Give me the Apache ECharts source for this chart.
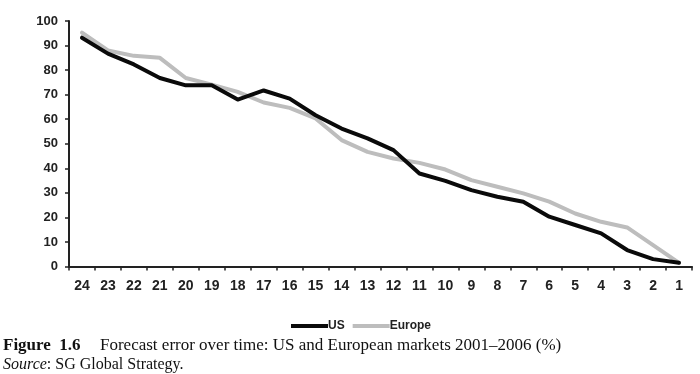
<!DOCTYPE html>
<html><head><meta charset="utf-8">
<script src="https://cdn.jsdelivr.net/npm/echarts@6/dist/echarts.min.js"></script>
<style>html,body{margin:0;padding:0;background:#fff}#c{width:700px;height:374px}</style>
</head><body><div id="c"></div>
<script>
var categories = ['24','23','22','21','20','19','18','17','16','15','14','13','12','11','10','9','8','7','6','5','4','3','2','1'];
var usValues = [93.2,86.7,82.3,76.8,73.8,73.8,68,71.7,68.4,61.6,56.2,52.2,47.4,37.9,34.9,31.1,28.4,26.4,20.3,16.9,13.5,6.7,3.0,1.5];
var europeValues = [95.3,88,85.8,85,76.8,74.1,71.1,66.8,64.6,60.3,51.5,46.7,44,42.2,39.5,35.2,32.5,29.8,26.4,21.6,18.2,15.9,8.7,1.5];
var yTicks = [0,10,20,30,40,50,60,70,80,90,100];

var chart = echarts.init(document.getElementById('c'));
var font = 'Liberation Sans, Arial, sans-serif';
var serif = 'Liberation Serif, Times New Roman, serif';
chart.setOption({
  animation: false,
  backgroundColor: '#fff',
  grid: {left: 69, right: 8, top: 21, bottom: 107.5, containLabel: false},
  xAxis: {
    type: 'category', data: categories, boundaryGap: true,
    axisLine: {lineStyle: {color: '#222', width: 2}},
    axisTick: {show: true, length: 4, lineStyle: {color: '#222', width: 1.5}, alignWithLabel: false},
    axisLabel: {color: '#222', fontFamily: font, fontWeight: 'bold', fontSize: 14, margin: 13}
  },
  yAxis: {
    type: 'value', min: 0, max: 100, interval: 10,
    axisLine: {show: true, lineStyle: {color: '#222', width: 2}},
    axisTick: {show: true, length: 4, lineStyle: {color: '#222', width: 1.5}},
    splitLine: {show: false},
    axisLabel: {color: '#222', fontFamily: font, fontWeight: 'bold', fontSize: 13, margin: 11,
      formatter: function (v) { return yTicks.indexOf(v) >= 0 ? String(v) : ''; }}
  },
  legend: {
    top: 315, left: 286, itemWidth: 37, itemHeight: 4, itemGap: 8, icon: 'rect',
    textStyle: {fontFamily: font, fontWeight: 'bold', fontSize: 12, color: '#222', padding: [0,0,0,-5]},
    data: ['US', 'Europe']
  },
  series: [
    {name: 'US', type: 'line', data: usValues, symbol: 'none', z: 3,
     lineStyle: {color: '#0a0a0a', width: 4, join: 'round', cap: 'round'}, itemStyle: {color: '#0a0a0a'}},
    {name: 'Europe', type: 'line', data: europeValues, symbol: 'none', z: 2,
     lineStyle: {color: '#bdbdbd', width: 4, join: 'round', cap: 'round'}, itemStyle: {color: '#bdbdbd'}}
  ],
  graphic: [
    {type: 'text', left: 3, top: 337, style: {
      text: '{b|Figure  1.6}{r|Forecast error over time: US and European markets 2001–2006 (%)}',
      rich: {
        b: {fontFamily: serif, fontWeight: 'bold', fontSize: 17, fill: '#111', width: 97},
        r: {fontFamily: serif, fontSize: 17, fill: '#111'}
      }}},
    {type: 'text', left: 3, top: 357, style: {
      text: '{i|Source}{r|: SG Global Strategy.}',
      rich: {
        i: {fontFamily: serif, fontStyle: 'italic', fontSize: 16, fill: '#111'},
        r: {fontFamily: serif, fontSize: 16, fill: '#111'}
      }}}
  ]
});
</script></body></html>
